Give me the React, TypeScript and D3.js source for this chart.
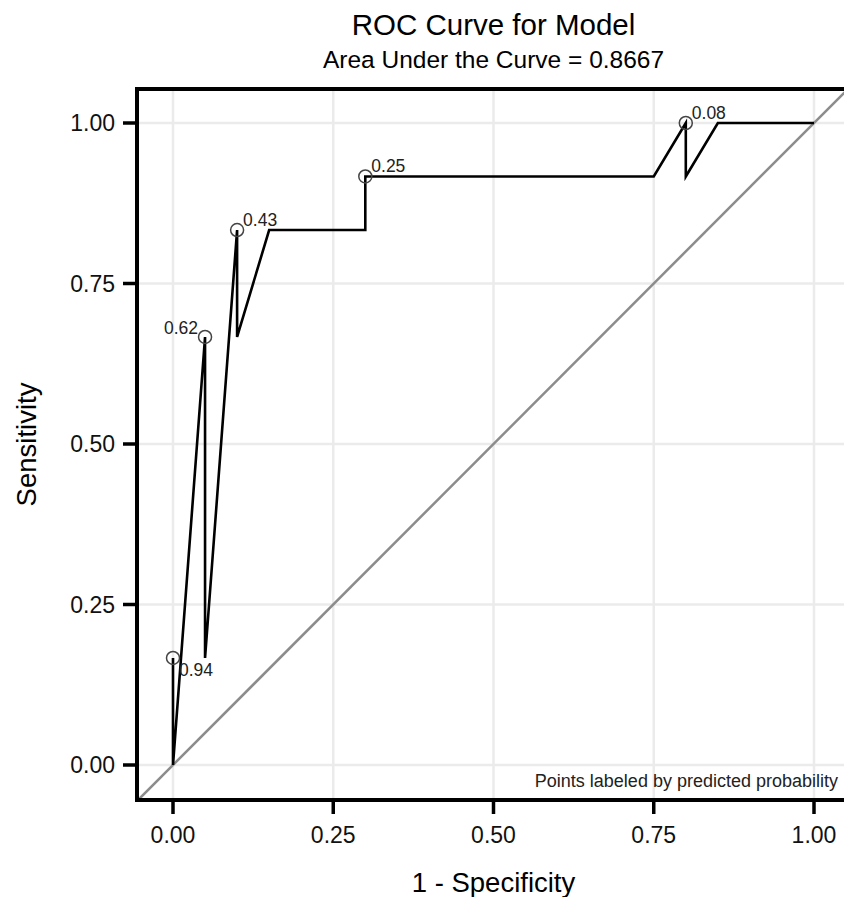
import React from "react";
import * as d3 from "d3";

// ROC path (in the order drawn)
const fpr = [0, 0, 0.05, 0.05, 0.1, 0.1, 0.15, 0.3, 0.3, 0.75, 0.8, 0.8, 0.85, 1];
const tpr = [0.1667, 0, 0.6667, 0.1667, 0.8333, 0.6667, 0.8333, 0.8333, 0.9167, 0.9167, 1, 0.9167, 1, 1];

// labelled points
const labelFpr = [0, 0.05, 0.1, 0.3, 0.8];
const labelTpr = [0.1667, 0.6667, 0.8333, 0.9167, 1];
const labelText = ["0.94", "0.62", "0.43", "0.25", "0.08"];
const labelPlacement = ["below", "left", "above", "above", "above"];

const xTicks = [0, 0.25, 0.5, 0.75, 1];
const yTicks = [0, 0.25, 0.5, 0.75, 1];
const tickLabels = ["0.00", "0.25", "0.50", "0.75", "1.00"];

const title = "ROC Curve for Model";
const subtitle = "Area Under the Curve = 0.8667";
const xTitle = "1 - Specificity";
const yTitle = "Sensitivity";
const caption = "Points labeled by predicted probability";

const W = 844;
const H = 897;
const FONT = "'Liberation Sans', Arial, Helvetica, sans-serif";

export default function App() {
  const panel = { left: 137, right: 850, top: 89, bottom: 800 };
  const x = d3.scaleLinear().domain([0, 1]).range([173, 814]);
  const y = d3.scaleLinear().domain([0, 1]).range([765, 123]);
  const xMin = x.invert(panel.left);
  const xMax = x.invert(panel.right);

  const line = d3
    .line<number>()
    .x((i) => x(fpr[i]))
    .y((i) => y(tpr[i]));
  const pathD = line(fpr.map((_, i) => i)) || "";

  const cx = (panel.left + panel.right) / 2;
  const cy = (panel.top + panel.bottom) / 2;

  return (
    <svg
      width={W}
      height={H}
      style={{ position: "absolute", left: 0, top: 0, display: "block", background: "#fff" }}
      fontFamily={FONT}
    >
      <defs>
        <clipPath id="panelClip">
          <rect x={panel.left} y={panel.top} width={panel.right - panel.left} height={panel.bottom - panel.top} />
        </clipPath>
      </defs>
      <rect width={W} height={H} fill="#fff" />
      {/* grid */}
      <g clipPath="url(#panelClip)">
        {xTicks.map((t) => (
          <line key={"gx" + t} x1={x(t)} x2={x(t)} y1={panel.top} y2={panel.bottom} stroke="#ebebeb" strokeWidth={2.5} />
        ))}
        {yTicks.map((t) => (
          <line key={"gy" + t} y1={y(t)} y2={y(t)} x1={panel.left} x2={panel.right} stroke="#ebebeb" strokeWidth={2.5} />
        ))}
        {/* diagonal reference */}
        <line x1={x(xMin)} y1={y(xMin)} x2={x(xMax)} y2={y(xMax)} stroke="#8c8c8c" strokeWidth={2.5} />
        {/* ROC path */}
        <path d={pathD} fill="none" stroke="#000" strokeWidth={2.6} strokeLinejoin="miter" />
        {labelFpr.map((f, i) => (
          <circle key={"c" + i} cx={x(f)} cy={y(labelTpr[i])} r={6.5} fill="none" stroke="#444" strokeWidth={1.5} />
        ))}
        {labelFpr.map((f, i) => {
          const p = labelPlacement[i];
          const px = x(f);
          const py = y(labelTpr[i]);
          const dx = p === "left" ? -7 : 6;
          const dy = p === "below" ? 18 : p === "left" ? -3 : -4;
          return (
            <text
              key={"t" + i}
              x={px + dx}
              y={py + dy}
              fontSize={17.5}
              fill="#222"
              textAnchor={p === "left" ? "end" : "start"}
            >
              {labelText[i]}
            </text>
          );
        })}
        <text x={838} y={787} fontSize={18} fill="#222" textAnchor="end">
          {caption}
        </text>
      </g>
      {/* panel border */}
      <rect
        x={panel.left}
        y={panel.top}
        width={panel.right - panel.left}
        height={panel.bottom - panel.top}
        fill="none"
        stroke="#000"
        strokeWidth={4}
      />
      {/* x axis ticks */}
      {xTicks.map((t, i) => (
        <g key={"xt" + t}>
          <line x1={x(t)} x2={x(t)} y1={panel.bottom} y2={panel.bottom + 14} stroke="#000" strokeWidth={3.5} />
          <text x={x(t)} y={843} fontSize={23} fill="#111" textAnchor="middle">
            {tickLabels[i]}
          </text>
        </g>
      ))}
      {yTicks.map((t, i) => (
        <g key={"yt" + t}>
          <line x1={panel.left - 14} x2={panel.left} y1={y(t)} y2={y(t)} stroke="#000" strokeWidth={3.5} />
          <text x={115} y={y(t)} dy="0.36em" fontSize={23} fill="#111" textAnchor="end">
            {tickLabels[i]}
          </text>
        </g>
      ))}
      {/* titles */}
      <text x={cx} y={35} fontSize={29.5} textAnchor="middle" fill="#000">
        {title}
      </text>
      <text x={cx} y={68} fontSize={24.5} textAnchor="middle" fill="#000">
        {subtitle}
      </text>
      <text x={cx} y={892} fontSize={27.5} textAnchor="middle" fill="#000">
        {xTitle}
      </text>
      <text
        transform={`translate(36, ${cy}) rotate(-90)`}
        fontSize={27.5}
        textAnchor="middle"
        fill="#000"
      >
        {yTitle}
      </text>
    </svg>
  );
}
